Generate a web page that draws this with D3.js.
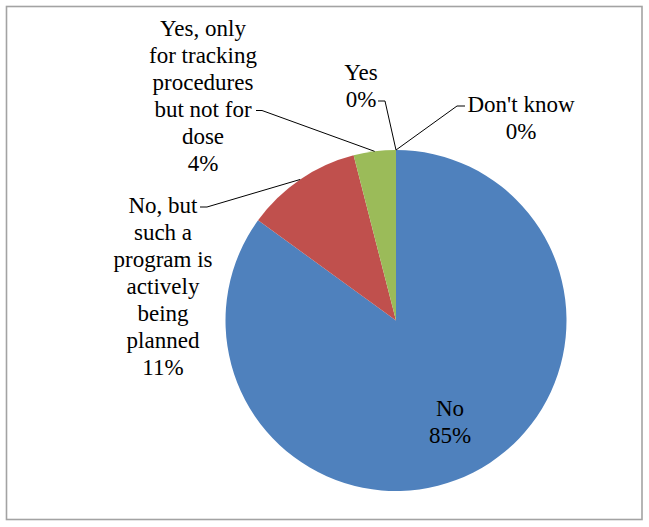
<!DOCTYPE html>
<html>
<head>
<meta charset="utf-8">
<script src="https://d3js.org/d3.v7.min.js"></script>
<style>
  html, body { margin: 0; padding: 0; background: #fff; }
  svg { display: block; }
  text { font-family: "Liberation Serif", "Times New Roman", Tinos, "Noto Serif", "DejaVu Serif", serif; }
</style>
</head>
<body>
<script>
// ---- Data ----
const categories = [
  "No",
  "No, but such a program is actively being planned",
  "Yes, only for tracking procedures but not for dose",
  "Yes",
  "Don't know"
];
const values = [85, 11, 4, 0, 0];
const percentLabels = ["85%", "11%", "4%", "0%", "0%"];
const colors = ["#4F81BD", "#C0504D", "#9BBB59", "#8064A2", "#4BACC6"];

// label line breaks (text content only)
const labelLines = [
  ["No"],
  ["No, but", "such a", "program is", "actively", "being", "planned"],
  ["Yes, only", "for tracking", "procedures", "but not for", "dose"],
  ["Yes"],
  ["Don't know"]
];

// ---- Layout (positions of label blocks, separate from data) ----
const W = 649, H = 527;
const cx = 396, cy = 320.5, R = 170.5;
const fontSize = 23, lineStep = 27;
const labelLayout = [
  { x: 450, y: 416, leader: null },
  { x: 163, y: 213, leader: { sx: 200, ex: 207 } },
  { x: 203, y: 35.5, leader: { sx: 256, ex: 262, line: 3 } },
  { x: 361, y: 80, leader: { sx: 378, ex: 385, line: 1 } },
  { x: 521, y: 112, leader: { sx: 465, ex: 457, line: 0 } }
];

const svg = d3.select("body").append("svg")
  .attr("width", W).attr("height", H);

svg.append("rect")
  .attr("x", 6.5).attr("y", 6.5)
  .attr("width", 635.5).attr("height", 513)
  .attr("fill", "#fff")
  .attr("stroke", "#A3A3A3")
  .attr("stroke-width", 1.6);

const pie = d3.pie().sort(null).value(d => d)
  .startAngle(0).endAngle(2 * Math.PI);
const arcs = pie(values);
const arc = d3.arc().innerRadius(0).outerRadius(R);

const g = svg.append("g").attr("transform", `translate(${cx},${cy})`);
g.selectAll("path.slice")
  .data(arcs.filter(d => d.value > 0))
  .join("path")
  .attr("class", "slice")
  .attr("d", arc)
  .attr("fill", (d) => colors[d.index]);

// leader lines
arcs.forEach((a, i) => {
  const L = labelLayout[i];
  if (!L.leader) return;
  const mid = (a.startAngle + a.endAngle) / 2;
  const px = cx + R * Math.sin(mid);
  const py = cy - R * Math.cos(mid);
  const lineIdx = L.leader.line !== undefined ? L.leader.line : 0;
  const ly = L.y + lineIdx * lineStep - 6;
  svg.append("path")
    .attr("d", d3.line()([[L.leader.sx, ly], [L.leader.ex, ly], [px, py]]))
    .attr("fill", "none")
    .attr("stroke", "#000")
    .attr("stroke-width", 1);
});

// labels
arcs.forEach((a, i) => {
  const L = labelLayout[i];
  const lines = labelLines[i].concat([percentLabels[i]]);
  const t = svg.append("text")
    .attr("font-size", fontSize)
    .attr("fill", "#000")
    .attr("text-anchor", "middle");
  lines.forEach((s, k) => {
    t.append("tspan").attr("x", L.x).attr("y", L.y + k * lineStep).text(s);
  });
});
</script>
</body>
</html>
